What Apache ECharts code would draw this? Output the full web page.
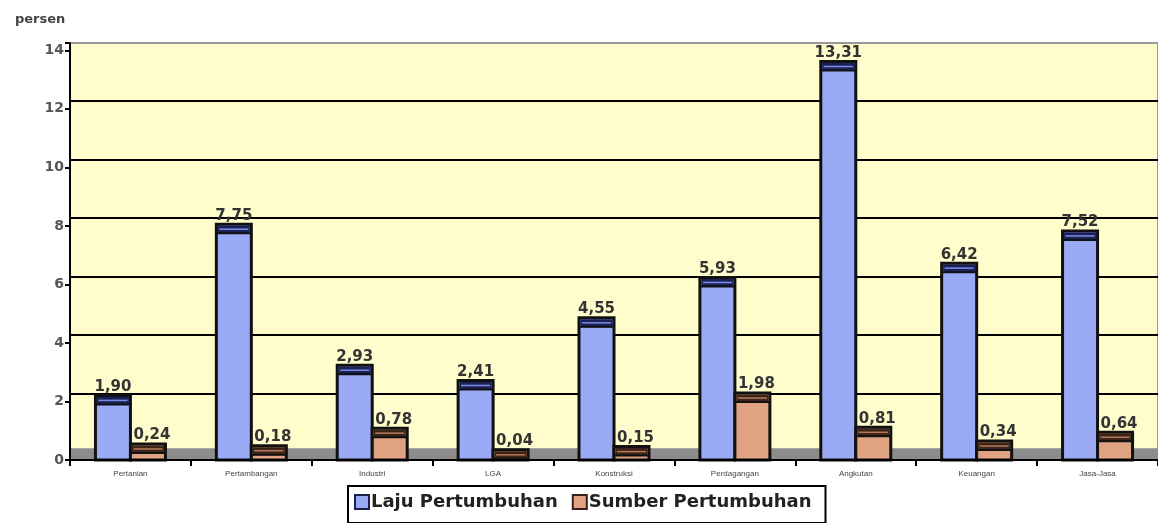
<!DOCTYPE html>
<html>
<head>
<meta charset="utf-8">
<script src="https://cdn.jsdelivr.net/npm/echarts@6/dist/echarts.min.js"></script>
<style>
  html, body { margin: 0; padding: 0; background: #fff; }
  #chart { width: 1158px; height: 523px; }
</style>
</head>
<body>
<div id="chart"></div>
<script>
// sektor
const categories = ['Pertanian', 'Pertambangan', 'Industri', 'LGA', 'Konstruksi', 'Perdagangan', 'Angkutan', 'Keuangan', 'Jasa-Jasa']
const lajuPertumbuhan = [1.90, 7.75, 2.93, 2.41, 4.55, 5.93, 13.31, 6.42, 7.52]
const sumberPertumbuhan = [0.24, 0.18, 0.78, 0.04, 0.15, 1.98, 0.81, 0.34, 0.64]

const chart = echarts.init(document.getElementById('chart'))

const BAR_W = 35
const DEPTH = 9 // tinggi "tutup" 3D di atas batang
const labelFont = 'bold 15px "DejaVu Sans"'

// batang semu-3D: muka depan + tutup gelap, digambar lewat api.coord
function barRenderer (offset, face, cap, capLine, labelDx) {
  return function (params, api) {
    const c = api.coord([api.value(0), api.value(1)])
    const base = api.coord([api.value(0), 0])
    const x = c[0] + offset - BAR_W / 2
    const top = c[1] - DEPTH
    const h = base[1] - top
    return {
      type: 'group',
      children: [
        { type: 'rect', shape: { x: x, y: top, width: BAR_W, height: h }, style: { fill: face, stroke: '#111', lineWidth: 3 } },
        { type: 'rect', shape: { x: x + 1.5, y: top + 1.5, width: BAR_W - 3, height: DEPTH - 1 }, style: { fill: cap } },
        { type: 'line', shape: { x1: x + 3, y1: top + 5, x2: x + BAR_W - 3, y2: top + 5 }, style: { stroke: capLine, lineWidth: 1.5 } },
        { type: 'line', shape: { x1: x, y1: top + DEPTH, x2: x + BAR_W, y2: top + DEPTH }, style: { stroke: '#111', lineWidth: 2 } },
        {
          type: 'text',
          style: {
            text: api.value(1).toFixed(2).replace('.', ','),
            x: c[0] + offset + labelDx, y: top - 1,
            align: 'center', verticalAlign: 'bottom',
            font: labelFont, fill: '#333'
          }
        }
      ]
    }
  }
}

chart.setOption({
  animation: false,
  title: {
    text: 'persen',
    left: 10,
    top: 8,
    textStyle: { fontFamily: 'DejaVu Sans', fontSize: 13, fontWeight: 'bold', color: '#444' }
  },
  legend: {
    data: [
      { name: 'Laju Pertumbuhan', itemStyle: { color: '#9aaaf4', borderColor: '#1a1f50', borderWidth: 2 } },
      { name: 'Sumber Pertumbuhan', itemStyle: { color: '#dfa382', borderColor: '#3a1f14', borderWidth: 2 } }
    ],
    icon: 'rect',
    left: 348,
    top: 486,
    padding: [7, 14, 12, 6],
    itemGap: 14,
    itemWidth: 14,
    itemHeight: 14,
    borderColor: '#000',
    borderWidth: 2,
    borderRadius: 0,
    textStyle: { fontFamily: 'DejaVu Sans', fontSize: 18, fontWeight: 'bold', color: '#222', padding: [0, 0, 0, -3] }
  },
  grid: [
    {
      left: 70, right: 0, top: 43, bottom: 63,
      show: true,
      backgroundColor: '#fefdcb',
      borderColor: '#999',
      borderWidth: 2
    },
    // dinding belakang: garis grid bergeser 8px ke atas
    { left: 70, right: 0, top: 35, bottom: 71 }
  ],
  xAxis: [
    {
      type: 'category',
      data: categories,
      gridIndex: 0,
      axisLine: { lineStyle: { color: '#000', width: 2 } },
      axisTick: { show: true, length: 6, lineStyle: { color: '#000', width: 2 } },
      axisLabel: { fontFamily: 'Arial', fontSize: 8, color: '#444', margin: 10 },
      z: 5
    },
    { type: 'category', data: categories, gridIndex: 1, show: false }
  ],
  yAxis: [
    {
      type: 'value',
      gridIndex: 0,
      min: 0,
      max: 14.25,
      interval: 2,
      axisLine: { show: true, lineStyle: { color: '#000', width: 2 } },
      axisTick: { show: true, length: 5, lineStyle: { color: '#000', width: 2 } },
      axisLabel: {
        fontFamily: 'DejaVu Sans', fontSize: 14, fontWeight: 'bold', color: '#555', margin: 6,
        formatter: v => (v % 2 === 0 ? v : '')
      },
      splitLine: { show: false },
      z: 5
    },
    {
      type: 'value',
      gridIndex: 1,
      min: 0,
      max: 14.25,
      interval: 2,
      axisLine: { show: false },
      axisTick: { show: false },
      axisLabel: { show: false },
      splitLine: {
        lineStyle: {
          width: 2,
          color: ['rgba(0,0,0,0)', '#000', '#000', '#000', '#000', '#000', '#000', 'rgba(0,0,0,0)', 'rgba(0,0,0,0)']
        }
      }
    }
  ],
  series: [
    {
      name: 'Laju Pertumbuhan',
      type: 'custom',
      xAxisIndex: 0,
      yAxisIndex: 0,
      z: 3,
      itemStyle: { color: '#9aaaf4' },
      encode: { x: 0, y: 1 },
      data: lajuPertumbuhan.map((v, i) => [i, v]),
      renderItem: barRenderer(-BAR_W / 2, '#9aaaf4', '#1a2158', '#7d8ee0', 0),
      markArea: {
        silent: true,
        itemStyle: { color: '#8c8c8c' },
        data: [[{ yAxis: 0 }, { yAxis: 0.4 }]]
      }
    },
    {
      name: 'Sumber Pertumbuhan',
      type: 'custom',
      xAxisIndex: 0,
      yAxisIndex: 0,
      z: 4,
      itemStyle: { color: '#dfa382' },
      encode: { x: 0, y: 1 },
      data: sumberPertumbuhan.map((v, i) => [i, v]),
      renderItem: barRenderer(BAR_W / 2, '#dfa382', '#3d2418', '#b57a5c', 4)
    }
  ]
})
</script>
</body>
</html>
